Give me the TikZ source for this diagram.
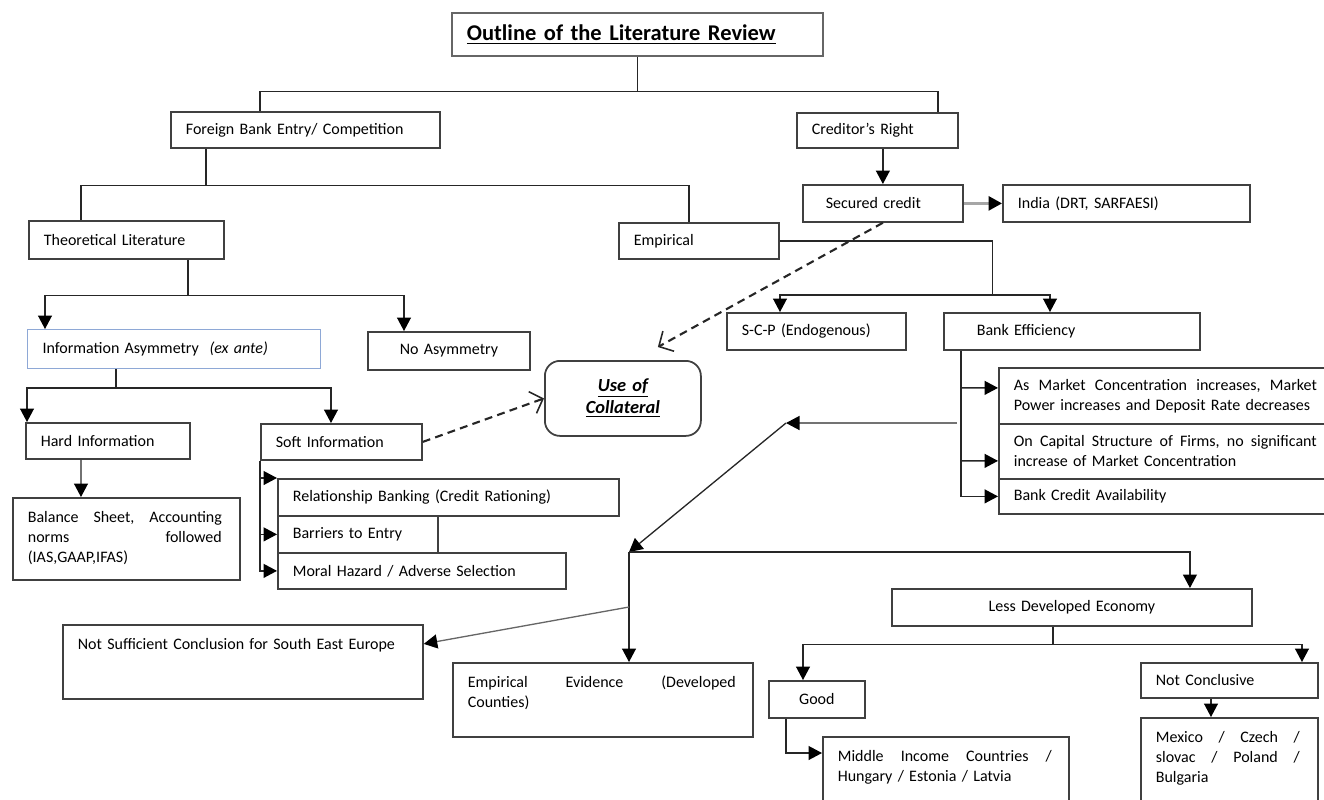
\documentclass[tikz,border=0pt]{standalone}
\usepackage{fontspec}
\setmainfont{Carlito}
\usetikzlibrary{arrows.meta,calc}
\definecolor{infoblue}{RGB}{142,168,214}
\def\jline#1#2{\leavevmode\hbox to #1{#2}}

\begin{document}
\begin{tikzpicture}[x=0.02cm, y=-0.02cm,
	box/.style={draw=black!75, line width=1pt, fill=white, inner xsep=0.3cm, inner ysep=0pt, align=left, anchor=north west, text=black, font=\fontsize{9.1}{11.3}\selectfont},
	bx/.style 2 args={minimum width=#1*0.02cm, minimum height=#2*0.02cm, text width=#1*0.02cm-0.6cm},
	tall/.style={inner ysep=0.2cm, text height=0.3cm, text depth=#1},
	ln/.style={line width=0.75pt, draw=black!85},
	arr/.style={ln, -{Triangle[length=2.7mm, width=2.8mm, color=black]}},
	dasharr/.style={line width=1.2pt, draw=black!85, dash pattern=on 4.5pt off 3pt, -{Straight Barb[length=2.2mm, width=4.6mm, line width=0.9pt]}}]
		%%%%% START %%%%%
		\useasboundingbox (0,0) rectangle (1324,799);
		\clip (0,0) rectangle (1324,799);
		
		\node[box, bx={371}{43}, draw=black!60, font=\fontsize{12.8}{15}\selectfont\bfseries] (title) at (451,12) {\underline{Outline of the Literature Review}};
		
		\node[box, bx={269}{36}] (foreign) at (170,111) {Foreign Bank Entry/ Competition};
		\node[box, bx={161}{35}] (creditor) at (796,112) {Creditor's Right};
		\node[box, bx={160}{37}] (secured) at (802,184) {\hspace*{0.16cm}Secured credit};
		\node[box, bx={247}{37}] (india) at (1002,184) {India (DRT, SARFAESI)};
		
		\node[box, bx={195}{38}] (theory) at (28,220) {Theoretical Literature};
		\node[box, bx={160}{36}] (empir) at (618,222) {Empirical};
		\node[box, bx={179}{37}] (scp) at (726,312) {S-C-P (Endogenous)};
		\node[box, bx={256}{37}] (bankeff) at (943,312) {\hspace*{0.36cm}Bank Efficiency};
		
		\node[box, bx={334}{56}] (mc1) at (998,367) {\jline{6.06cm}{As\hfill Market\hfill Concentration\hfill increases,\hfill Market}\\Power increases and Deposit Rate decreases};
		\node[box, bx={334}{55}] (mc2) at (998,423) {\jline{6.06cm}{On\hfill Capital\hfill Structure\hfill of\hfill Firms,\hfill no\hfill significant}\\increase of Market Concentration};
		\node[box, bx={334}{35}] (mc3) at (998,478) {Bank Credit Availability};
		
		\node[box, bx={293}{39}, draw=infoblue, line width=0.6pt] (infoasym) at (27,329) {Information Asymmetry~~\textit{(ex ante)}};
		\node[box, bx={162}{38}, align=center] (noasym) at (367,331) {No Asymmetry};
		\node[box, bx={156}{75}, rounded corners=0.3cm, align=center, font=\fontsize{10.5}{12.5}\selectfont\bfseries\itshape] (collateral) at (544,360) {\underline{Use of}\\\underline{Collateral}};
		
		\node[box, bx={164}{36}] (hard) at (25,422) {Hard Information};
		\node[box, bx={161}{36}] (soft) at (260,423) {Soft Information};
		\node[box, bx={227}{82}, tall=0.94cm] (balance) at (12,497) {\jline{3.88cm}{Balance\hfill Sheet,\hfill Accounting}\\\jline{3.88cm}{norms\hfill followed}\\(IAS,GAAP,IFAS)};
		
		\node[box, bx={341}{37}] (rel) at (277,478) {Relationship Banking (Credit Rationing)};
		\node[box, bx={160}{37}] (barrier) at (277,515) {Barriers to Entry};
		\node[box, bx={288}{36}] (moral) at (277,552) {Moral Hazard / Adverse Selection};
		
		\node[box, bx={360}{74}, tall=0.78cm] (notsuff) at (62,624) {Not Sufficient Conclusion for South East Europe};
		\node[box, bx={300}{74}, tall=0.78cm] (evid) at (452,662) {\jline{5.36cm}{Empirical\hfill Evidence\hfill (Developed}\\Counties)};
		
		\node[box, bx={360}{37}, align=center] (lessdev) at (891,588) {Less Developed Economy};
		\node[box, bx={96}{37}, align=center] (good) at (768,680) {Good};
		\node[box, bx={177}{35}] (notconc) at (1140,662) {Not Conclusive};
		\node[box, bx={246}{80}, tall=1.2cm] (middle) at (822,736) {\jline{4.28cm}{Middle\hfill Income\hfill Countries\hfill /}\\Hungary / Estonia / Latvia};
		\node[box, bx={177}{95}, tall=1.5cm] (mexico) at (1140,717) {\jline{2.88cm}{Mexico\hfill /\hfill Czech\hfill /}\\\jline{2.88cm}{slovac\hfill /\hfill Poland\hfill /}\\Bulgaria};
		
		%%%%% LINKS %%%%%
		\draw[ln] (title.south) -- ++(0,35) -| ([xshift=1.8cm]foreign.north west);
		\draw[ln] (title.south) ++(0,35) -| ([xshift=2.84cm]creditor.north west);
		\draw[arr] (secured.north |- creditor.south) -- (secured.north);
		\draw[arr, draw=black!35, line width=1.6pt] (secured.east) -- (india.west);
		
		\draw[ln] ([xshift=0.72cm]foreign.south west) -- ++(0,37) coordinate (fj);
		\draw[ln] (fj) -| ([xshift=1.06cm]theory.north west);
		\draw[ln] (fj) -| ([xshift=1.42cm]empir.north west);
		
		\draw[ln] (empir.east) -| ++(213,54) coordinate (ej);
		\draw[arr] (ej) -| ([xshift=1.08cm]scp.north west);
		\draw[arr] (ej) -| ([xshift=2.14cm]bankeff.north west);
		
		\coordinate (bel) at ([xshift=0.36cm]bankeff.south west);
		\draw[arr] (bel) |- (mc3.west);
		\draw[arr] (bel |- mc1.west) ++(0,-8) -- ([yshift=0.16cm]mc1.west);
		\draw[arr] (bel |- mc2.west) ++(0,9.5) -- ([yshift=-0.19cm]mc2.west);
		
		\coordinate (mcout) at (957,423);
		\coordinate (bend) at (786,423);
		\coordinate (hub) at (629,552);
		\draw[arr, draw=black!55] (mcout) -- (bend);
		\draw[arr] (bend) -- (hub);
		\draw[arr] (hub) -| ([xshift=5.98cm]lessdev.north west);
		\draw[arr] (hub) -- (hub |- evid.north);
		\draw[arr, draw=black!60] ($(hub)+(0,55)$) -- ([yshift=0.36cm]notsuff.east);
		
		\draw[ln] ([xshift=-0.38cm]lessdev.south) -- ++(0,18) coordinate (lj);
		\draw[arr] (lj) -| ([xshift=0.7cm]good.north west);
		\draw[arr] (lj) -| ([xshift=3.24cm]notconc.north west);
		\draw[arr] ([xshift=1.42cm]notconc.south west) -- ([xshift=1.42cm]mexico.north west);
		\draw[arr] ([xshift=0.36cm]good.south west) |- ([yshift=-0.34cm]middle.north west);
		
		\draw[ln] ([xshift=3.2cm]theory.south west) -- ++(0,36) coordinate (tj);
		\draw[arr] (tj) -| ([xshift=0.36cm]infoasym.north west);
		\draw[arr] (tj) -| ([xshift=0.74cm]noasym.north west);
		
		\draw[ln] ([xshift=1.78cm]infoasym.south west) -- ++(0,19) coordinate (ij);
		\draw[arr] (ij) -| ([xshift=0.04cm]hard.north west);
		\draw[arr] (ij) -| ([xshift=1.42cm]soft.north west);
		\draw[arr] ([xshift=1.12cm]hard.south west) -- ([xshift=1.38cm]balance.north west);
		
		\draw[arr] (soft.south west) |- (moral.west);
		\draw[arr] (soft.south west |- rel.north west) -- (rel.north west);
		\draw[arr] (soft.south west |- barrier.west) -- (barrier.west);
		
		\draw[dasharr] (secured.south) -- ([xshift=0.7cm, yshift=0.26cm]collateral.north);
		\draw[dasharr] (soft.east) -- (collateral.west);
		%%%%% END %%%%%
\end{tikzpicture}
\end{document}
